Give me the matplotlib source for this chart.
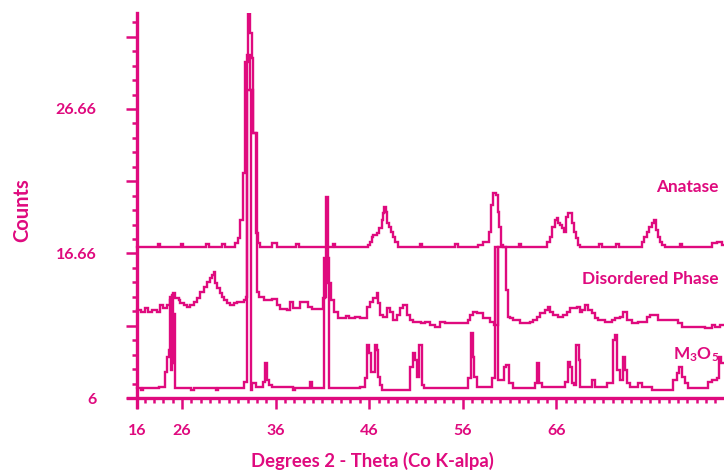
import numpy as np
import matplotlib
matplotlib.use("Agg")
import matplotlib.pyplot as plt
from matplotlib.ticker import FixedLocator

PINK = "#DF0A7E"

# step breakpoints (degrees 2-theta, counts)
anatase_x = [21.19, 23.40, 23.65, 25.90, 26.15, 28.60, 28.85, 30.30, 30.55,
             31.66, 31.98, 32.20, 32.52, 32.73, 33.05, 33.26, 33.48, 33.59,
             33.91, 34.12, 34.33, 35.62, 36.15, 38.20, 38.45, 42.10, 42.35,
             45.87, 46.09, 46.30, 46.41, 46.83, 47.05, 47.37, 47.47, 47.58,
             47.79, 47.90, 48.11, 48.33, 48.54, 48.76, 49.08, 51.40, 51.65,
             55.20, 55.45, 57.62, 58.16, 58.80, 59.01, 59.23, 59.55, 59.76,
             59.87, 60.08, 60.29, 62.00, 62.25, 64.99, 65.32, 65.53, 65.85,
             66.06, 66.17, 66.38, 66.60, 66.81, 67.03, 67.24, 67.67, 67.88,
             68.09, 68.31, 68.52, 70.60, 70.85, 72.40, 72.65, 75.15, 75.36,
             75.68, 75.89, 76.21, 76.43, 76.64, 76.85, 77.07, 77.28, 77.60,
             79.20, 79.45, 82.62, 83.16, 83.69, 83.91]
anatase_y = [16.79, 17.00, 16.79, 17.00, 16.79, 17.00, 16.79, 17.00, 16.79,
             17.08, 17.44, 18.72, 22.08, 30.02, 33.52, 32.09, 30.30, 24.94,
             17.79, 17.08, 16.79, 17.08, 16.79, 17.00, 16.79, 17.00, 16.79,
             16.94, 17.15, 17.51, 17.65, 17.79, 18.15, 18.72, 19.22, 19.65,
             19.30, 18.51, 18.22, 17.87, 17.51, 17.15, 16.79, 17.00, 16.79,
             17.00, 16.79, 16.94, 17.15, 17.87, 19.80, 20.65, 20.51, 19.30,
             18.22, 16.94, 16.79, 17.00, 16.79, 17.15, 17.51, 18.22, 18.72,
             18.87, 18.51, 18.37, 18.15, 17.87, 18.94, 19.22, 18.51, 17.87,
             17.44, 16.94, 16.79, 17.00, 16.79, 17.00, 16.79, 17.15, 17.51,
             17.87, 18.22, 18.51, 18.72, 18.01, 17.51, 17.15, 16.94, 16.79,
             17.00, 16.79, 17.08, 17.15, 16.94, 16.94]

disordered_x = [21.19, 21.60, 22.00, 22.40, 22.80, 23.30, 23.65, 23.97, 24.40,
                24.72, 24.93, 25.04, 25.25, 25.68, 25.79, 26.21, 26.53, 26.85,
                27.28, 27.60, 27.92, 28.35, 28.67, 28.99, 29.21, 29.42, 29.53,
                29.74, 30.06, 30.27, 30.49, 30.81, 31.13, 31.56, 31.88, 32.62,
                32.84, 32.94, 33.26, 33.59, 34.01, 34.23, 34.76, 35.62, 36.15,
                36.47, 37.22, 37.54, 37.86, 38.61, 39.46, 39.89, 41.06, 41.28,
                41.38, 41.60, 41.71, 41.92, 42.24, 42.67, 43.50, 43.80, 44.50,
                45.02, 45.77, 46.09, 46.41, 46.83, 46.94, 47.15, 47.47, 47.90,
                48.22, 48.54, 48.97, 49.29, 49.61, 50.04, 50.36, 50.68, 51.50,
                52.00, 52.50, 53.00, 53.60, 54.10, 56.56, 56.77, 57.09, 57.52,
                58.16, 58.91, 59.33, 59.76, 60.62, 60.83, 61.04, 61.36, 62.11,
                63.18, 63.50, 63.93, 64.25, 64.78, 65.10, 65.32, 65.64, 66.20,
                66.71, 67.13, 67.45, 68.20, 68.52, 68.74, 69.06, 69.38, 69.80,
                70.12, 70.44, 71.20, 71.94, 72.26, 72.79, 73.12, 73.54, 74.08,
                74.72, 75.15, 75.68, 76.00, 76.85, 77.28, 78.99, 79.42, 81.88,
                82.62, 82.95, 83.50, 83.91]
disordered_y = [12.29, 12.15, 12.43, 12.15, 12.29, 12.15, 12.65, 12.43, 12.65,
                13.01, 13.36, 13.51, 13.15, 13.01, 12.79, 12.65, 12.50, 12.65,
                12.86, 13.15, 13.58, 13.93, 14.29, 14.58, 14.79, 15.01, 14.22,
                13.86, 13.51, 13.22, 13.01, 12.79, 12.65, 12.79, 12.86, 13.01,
                13.22, 30.50, 28.00, 24.94, 13.58, 13.22, 13.01, 13.08, 12.65,
                12.36, 12.29, 12.86, 12.43, 12.86, 12.50, 12.36, 13.15, 13.22,
                20.37, 14.22, 14.22, 13.01, 12.15, 11.72, 11.86, 11.72, 11.79,
                11.72, 12.50, 12.86, 13.15, 13.51, 12.79, 11.93, 11.79, 12.43,
                12.15, 11.58, 11.93, 12.43, 12.65, 11.93, 11.58, 11.43, 11.36,
                11.43, 11.22, 11.08, 11.43, 11.36, 11.58, 11.93, 12.15, 12.08,
                11.72, 11.43, 11.22, 16.79, 13.72, 11.79, 11.72, 11.58, 11.36,
                11.43, 11.58, 11.79, 12.08, 12.29, 12.50, 12.15, 11.93, 11.79,
                11.93, 12.15, 12.43, 12.50, 12.15, 12.29, 12.65, 12.29, 12.08,
                11.72, 11.58, 11.43, 11.58, 11.72, 11.79, 12.15, 11.58, 11.36,
                11.43, 11.43, 11.79, 11.93, 11.58, 11.58, 11.36, 11.08, 11.00,
                11.22, 11.08, 11.22, 11.22]

m3o5_x = [21.19, 21.60, 21.85, 23.50, 24.18, 24.40, 24.61, 24.72, 24.82,
          24.93, 25.04, 25.15, 25.25, 27.00, 27.25, 29.60, 29.85, 32.62,
          32.94, 33.37, 33.48, 33.91, 34.65, 34.87, 35.08, 35.29, 35.62,
          37.86, 38.10, 39.68, 39.89, 41.17, 41.71, 45.02, 45.55, 45.77,
          45.98, 46.19, 46.62, 46.83, 46.94, 47.15, 47.37, 50.36, 50.68,
          50.89, 51.11, 51.32, 51.64, 51.90, 56.56, 56.88, 57.09, 57.20,
          57.52, 59.12, 59.44, 59.76, 60.40, 60.62, 60.94, 61.36, 63.71,
          63.93, 64.14, 64.46, 66.92, 67.24, 67.45, 67.67, 67.88, 68.09,
          68.41, 68.52, 69.80, 70.12, 71.41, 72.05, 72.26, 72.47, 72.79,
          73.12, 73.33, 73.54, 73.86, 74.72, 75.15, 76.21, 78.46, 78.88,
          79.10, 79.42, 79.74, 80.06, 82.20, 82.62, 83.16, 83.37, 83.59,
          83.91]
m3o5_y = [6.71, 6.57, 6.71, 6.79, 7.86, 8.93, 9.43, 13.22, 8.00,
          13.22, 8.50, 12.00, 6.71, 6.57, 6.71, 6.57, 6.71, 7.14,
          28.00, 6.57, 7.07, 6.79, 7.14, 8.50, 7.29, 6.93, 6.79,
          6.57, 6.71, 7.14, 6.71, 16.00, 6.71, 6.79, 7.43, 9.79,
          9.22, 7.86, 9.79, 9.43, 7.50, 6.93, 6.57, 8.22, 9.22,
          8.72, 7.50, 9.79, 6.93, 6.71, 7.43, 10.65, 8.93, 7.50,
          6.79, 7.43, 16.79, 7.29, 8.22, 8.36, 7.07, 6.71, 7.07,
          8.50, 7.07, 6.79, 7.14, 8.57, 8.22, 7.07, 6.93, 9.79,
          8.72, 6.79, 7.29, 6.79, 7.07, 10.15, 10.50, 8.00, 7.29,
          8.93, 8.00, 7.07, 6.79, 7.07, 6.79, 6.57, 7.29, 7.79,
          8.22, 7.50, 7.07, 6.71, 7.14, 7.29, 7.43, 8.93, 8.50,
          8.50]

x_tick_pos = [21.19, 26, 36, 46, 56, 66]
x_tick_labels = ["16", "26", "36", "46", "56", "66"]
y_step = 20.66 / 20
y_tick_labels = {0: "6", 10: "16.66", 20: "26.66"}

FONT = "Lato"
plt.rcParams["font.family"] = [FONT, "DejaVu Sans"]
plt.rcParams["mathtext.default"] = "regular"

fig = plt.figure(figsize=(7.24, 4.75), dpi=100)
ax = fig.add_axes([128 / 724, 68 / 475, 1 - 128 / 724, (407 - 13) / 475])

for xs, ys in [(anatase_x, anatase_y), (disordered_x, disordered_y), (m3o5_x, m3o5_y)]:
    ax.plot(xs, ys, drawstyle="steps-post", color=PINK, lw=1.7, solid_joinstyle="miter")

x0, y0 = 21.19, 6.0
ax.set_xlim(x0 - 9 / 9.36, 83.91)
ax.set_ylim(y0 - 9 / 13.99, 33.52)

for s in ["top", "right"]:
    ax.spines[s].set_visible(False)
ax.spines["left"].set_position(("data", x0))
ax.spines["bottom"].set_position(("data", y0))
for s in ["left", "bottom"]:
    ax.spines[s].set_color(PINK)
    ax.spines[s].set_linewidth(2.4)

# x ticks
ax.xaxis.set_major_locator(FixedLocator(x_tick_pos))
ax.set_xticklabels(x_tick_labels)
ax.xaxis.set_minor_locator(FixedLocator(np.arange(22, 84, 1)))

# y ticks
yk = np.arange(0, 27)
ax.yaxis.set_major_locator(FixedLocator(y0 + yk[yk % 5 == 0] * y_step))
ax.set_yticklabels([y_tick_labels.get(k, "") for k in yk[yk % 5 == 0]])
ax.yaxis.set_minor_locator(FixedLocator(y0 + yk[yk % 5 != 0] * y_step))

ax.tick_params(which="both", direction="out", color=PINK, labelcolor=PINK, width=1.8)
ax.tick_params(which="major", length=8)
ax.tick_params(which="minor", length=3.6)
ax.tick_params(axis="y", which="major", pad=21, labelsize=11.5)
ax.tick_params(axis="x", which="major", pad=11, labelsize=11.5)
for lab in ax.get_xticklabels() + ax.get_yticklabels():
    lab.set_fontweight("bold")

fig.text(372 / 724, 1 - 461 / 475, "Degrees 2 - Theta (Co K-alpa)", color=PINK,
         fontsize=13.3, fontweight="bold", ha="center", va="center")
fig.text(22 / 724, 1 - 210 / 475, "Counts", color=PINK, fontsize=14.5,
         fontweight="bold", rotation=90, ha="center", va="center")

lab_kw = dict(color=PINK, fontsize=12.4, fontweight="bold", ha="right", va="center")
ax.text(83.3, 21.08, "Anatase", **lab_kw)
ax.text(83.3, 14.5, "Disordered Phase", **lab_kw)
ax.text(83.4, 9.07, r"M$_3$O$_5$", **lab_kw)

fig.savefig("out.png", dpi=100)
